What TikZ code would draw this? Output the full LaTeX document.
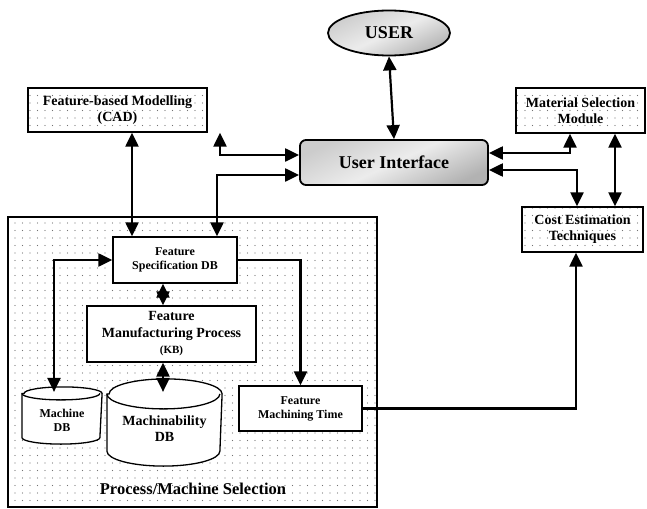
\documentclass[tikz,border=0pt]{standalone}
\usepackage{fontspec}
\setmainfont{Liberation Serif}
\usetikzlibrary{arrows.meta,shapes.geometric,patterns.meta,calc}
\begin{document}
\begin{tikzpicture}[x=1pt, y=-1pt, >={Triangle[length=14pt, width=13pt]},
    line width=2.2pt,
    dotbox/.style={draw, line width=1.3pt, pattern={Dots[distance=7.5pt, radius=0.7pt]}, pattern color=gray!90!black, font=\bfseries\fontsize{14}{16}\selectfont, align=center, inner sep=0pt},
    plainbox/.style={draw, line width=1.3pt, fill=white, font=\bfseries\fontsize{12}{14}\selectfont, align=center, inner sep=0pt},
    marble/.style={draw, line width=1.8pt, top color=gray!40, bottom color=gray!60, middle color=gray!15, shading angle=25, font=\bfseries\fontsize{18}{20}\selectfont, inner sep=0pt},
    dbline/.style={draw, line width=1.3pt, fill=white},
    dbtext/.style={font=\bfseries, align=center, inner sep=0pt}]
    \useasboundingbox (0,0) rectangle (647,508);
    % Outer modules
    \node[marble, ellipse, minimum width=122, minimum height=45] (user) at (389,33) {USER};
    \node[marble, rounded corners=6pt, minimum width=188, minimum height=45] (ui) at (394,162.5) {User Interface};
    \node[dotbox, minimum width=179, minimum height=44] (cad) at (117.5,110) {Feature-based Modelling\\(CAD)};
    \node[dotbox, minimum width=129, minimum height=45] (msm) at (580.5,110.5) {Material Selection\\Module};
    \node[dotbox, minimum width=121, minimum height=45] (cost) at (582.5,229.5) {Cost Estimation\\Techniques};
    % Process/Machine Selection block
    \node[dotbox, minimum width=369, minimum height=290] (pms) at (192.5,362) {};
    \node[font=\bfseries\fontsize{16.5}{18}\selectfont] (pmslabel) at (193,489) {Process/Machine Selection};
    \node[plainbox, minimum width=124, minimum height=46] (fsdb) at (175,260) {Feature\\Specification DB};
    \node[plainbox, font=\bfseries\fontsize{14}{16.5}\selectfont, minimum width=169, minimum height=56] (fmp) at (171.5,334) {Feature\\Manufacturing Process\\{\fontsize{11}{12}\selectfont(KB)}};
    \node[plainbox, minimum width=123, minimum height=45] (fmt) at (300.5,408.5) {Feature\\Machining Time};
    % Databases (cylinders)
    \node[minimum width=78, minimum height=55, inner sep=0pt] (mdb) at (62,415.5) {};
    \node[minimum width=113, minimum height=85, inner sep=0pt] (madb) at (164.5,422.5) {};
    \foreach \db/\rx/\ry in {mdb/39/6.5, madb/56.5/15} {
        \draw[dbline] ($(\db.north west)+(0,\ry)$) -- ($(\db.south west)+(0,-\ry)$)
            arc (180:360:\rx pt and \ry pt) -- ($(\db.north east)+(0,\ry)$)
            arc (0:180:\rx pt and \ry pt) -- cycle;
        \draw[dbline, fill=none] ($(\db.north west)+(0,\ry)$) arc (180:360:\rx pt and \ry pt);
    }
    \node[dbtext, font=\bfseries\fontsize{12}{14}\selectfont] (mdbtext) at ($(mdb)+(0,4.5)$) {Machine\\DB};
    \node[dbtext, font=\bfseries\fontsize{14}{16.5}\selectfont] (madbtext) at ($(madb)+(0,6)$) {Machinability\\DB};
    % Connectors
    \draw[<->] (user.south) -- (ui.north);
    \draw[<->] (132,0 |- cad.south) -- (132,0 |- fsdb.north);
    \draw[<->] (220,0 |- cad.south) |- (ui.west |- 0,155);
    \draw[<->] (ui.west |- 0,175) -| (217,0 |- fsdb.north);
    \draw[<->] (ui.east |- 0,153) -| (570,0 |- msm.south);
    \draw[<->] (ui.east |- 0,170) -| (577,0 |- cost.north);
    \draw[<->] (615,0 |- msm.south) -- (615,0 |- cost.north);
    \draw[<->] (fsdb.west) -| ($(mdb.north)+(-8,5)$);
    \draw[->] (fsdb.east) -| (fmt.north);
    \draw[<->] (163,0 |- fsdb.south) -- (163,0 |- fmp.north);
    \draw[<->] (163,0 |- fmp.south) -- ($(madb.north)+(-1.5,13)$);
    \draw[->] (fmt.east) -| (576,0 |- cost.south);
\end{tikzpicture}
\end{document}
